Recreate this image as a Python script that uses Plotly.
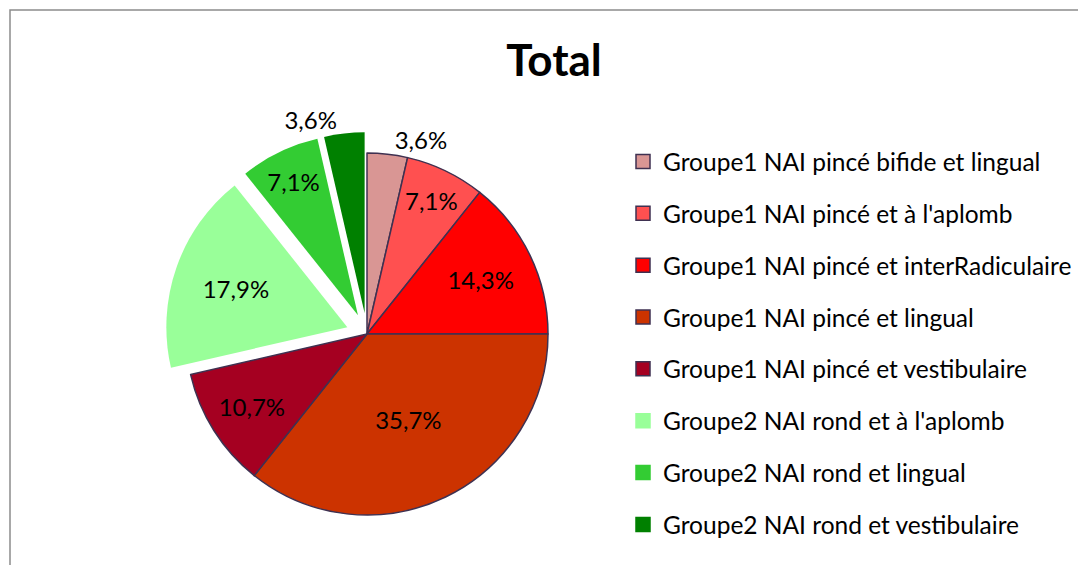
import plotly.graph_objects as go

labels = [
    "Groupe1 NAI pincé bifide et lingual",
    "Groupe1 NAI pincé et à l'aplomb",
    "Groupe1 NAI pincé et interRadiculaire",
    "Groupe1 NAI pincé et lingual",
    "Groupe1 NAI pincé et vestibulaire",
    "Groupe2 NAI rond et à l'aplomb",
    "Groupe2 NAI rond et lingual",
    "Groupe2 NAI rond et vestibulaire",
]
values = [3.6, 7.1, 14.3, 35.7, 10.7, 17.9, 7.1, 3.6]
colors = ["#D99694", "#FF5050", "#FF0000", "#CC3300", "#A50021", "#99FF99", "#33CC33", "#008000"]
pulls = [0, 0, 0, 0, 0, 0.115, 0.115, 0.115]
line_colors = ["#3F3151"] * 5 + ["#FFFFFF"] * 3
line_widths = [1.5] * 5 + [0] * 3
text_pos = ["outside", "inside", "inside", "inside", "inside", "inside", "inside", "outside"]

# page body has an 8px margin; work in reference pixels and shift
OFF = 8
W, H = 1086 - OFF, 565 - OFF
FONT = "Lato"


def px(x):
    return (x - OFF) / W


def py(y):
    return 1 - (y - OFF) / H


fig = go.Figure()

cx, cy, r = 367, 334, 181
half = r * (1 + max(pulls))
fig.add_trace(go.Pie(
    labels=labels,
    values=values,
    sort=False,
    direction="clockwise",
    rotation=0,
    pull=pulls,
    marker=dict(colors=colors, line=dict(color=line_colors, width=line_widths)),
    texttemplate="%{percent:.1%}",
    textposition=text_pos,
    insidetextorientation="horizontal",
    textfont=dict(family=FONT, size=24, color="black"),
    showlegend=False,
    hoverinfo="label+percent",
    domain=dict(x=[px(cx - half), px(cx + half)],
                y=[py(cy + half), py(cy - half)]),
))

for i, lab in enumerate(labels):
    fig.add_trace(go.Scatter(
        x=[None], y=[None], mode="markers", name=lab,
        legendgroup=f"g{i}", showlegend=True,
        marker=dict(symbol="square", size=14, color=colors[i],
                    line=dict(color=line_colors[i] if i < 5 else colors[i], width=1.5)),
    ))

fig.update_layout(
    width=W, height=H,
    margin=dict(l=0, r=0, t=0, b=0),
    paper_bgcolor="white", plot_bgcolor="white",
    separators=", ",
    uniformtext=dict(minsize=24, mode="show"),
    xaxis=dict(visible=False, range=[0, 1]),
    yaxis=dict(visible=False, range=[0, 1]),
    title=dict(text="<b>Total</b>", x=px(554), xanchor="center", y=py(61), yanchor="middle",
               yref="container", font=dict(family=FONT, size=44, color="black")),
    legend=dict(x=px(623), xanchor="left", y=py(139), yanchor="top",
                font=dict(family=FONT, size=24.5, color="black"),
                tracegroupgap=17, itemwidth=30, bgcolor="rgba(0,0,0,0)"),
    shapes=[dict(type="rect", xref="paper", yref="paper",
                 x0=px(10), x1=1.05, y0=-0.05, y1=py(10),
                 line=dict(color="#8C8C8C", width=1.5), fillcolor="rgba(0,0,0,0)", layer="below")],
)

fig.write_html("out.html")
